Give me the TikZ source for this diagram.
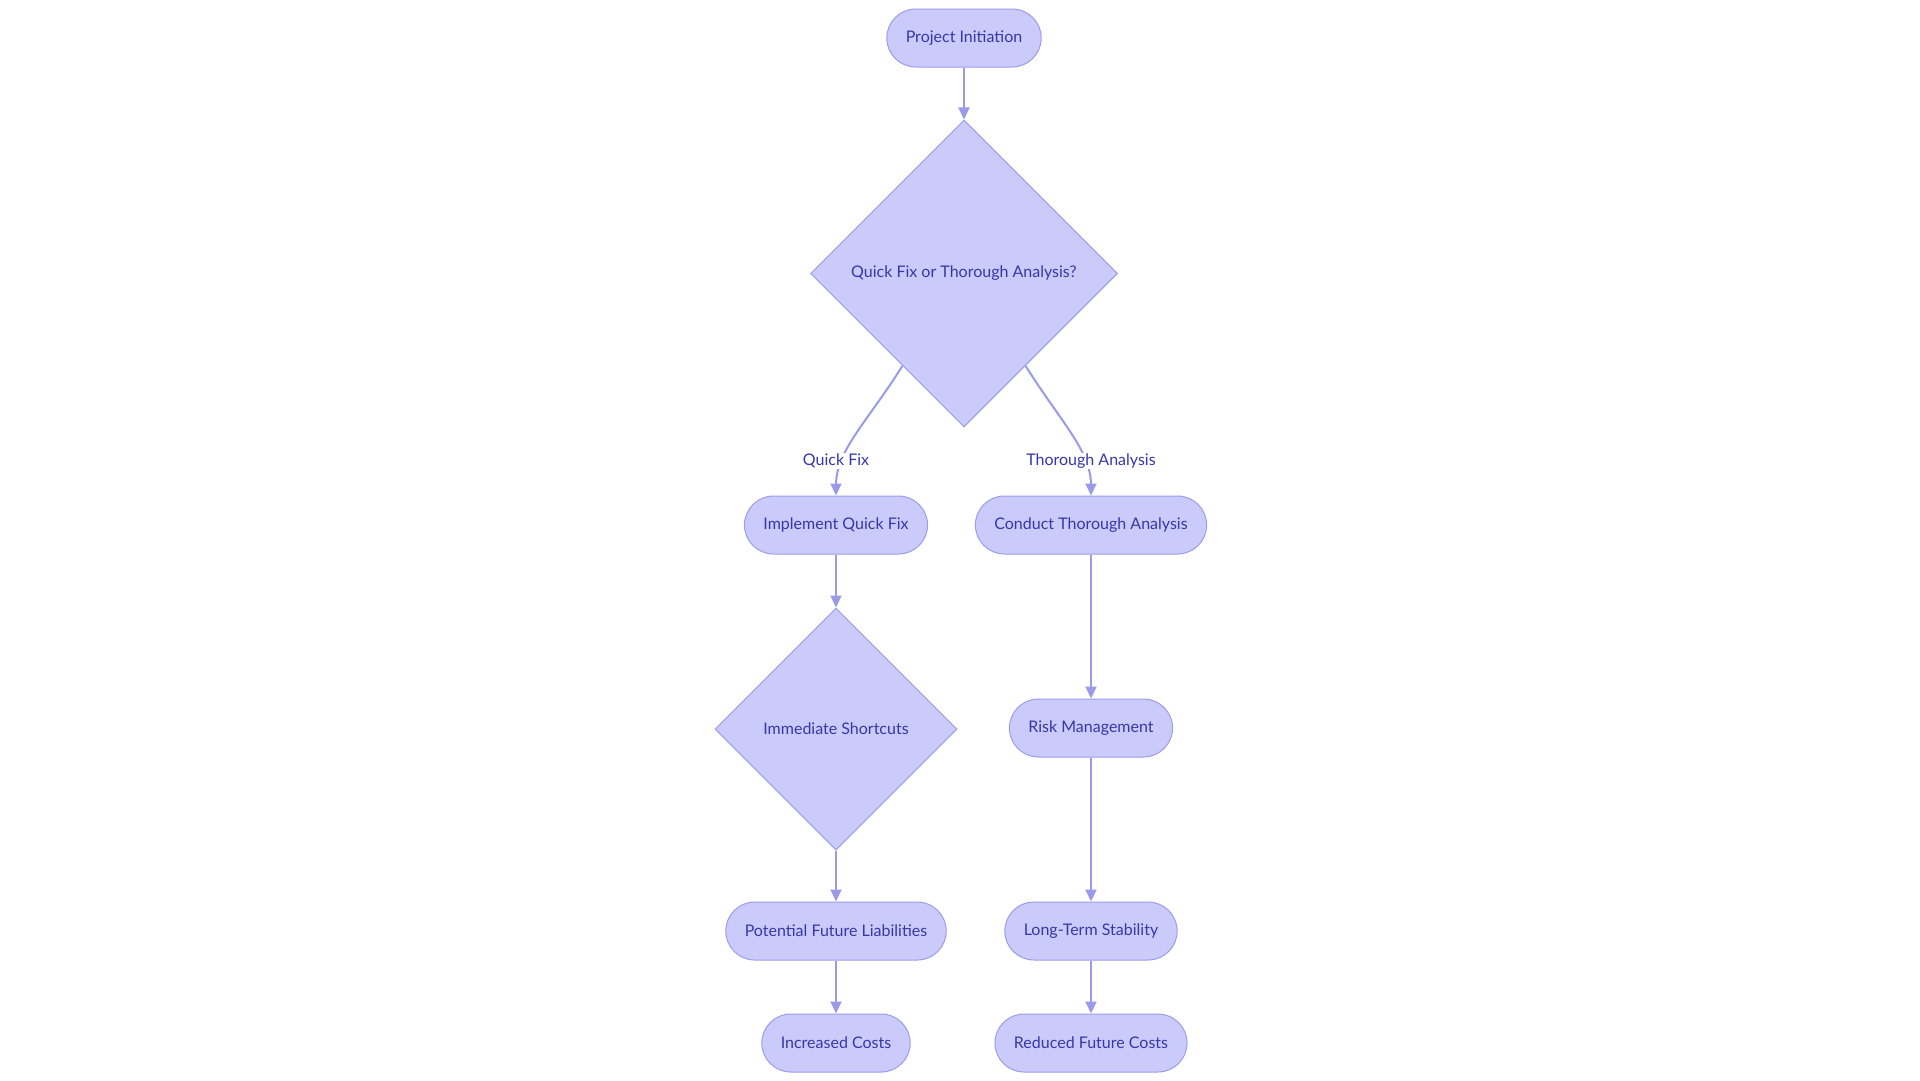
\documentclass[tikz,border=0pt]{standalone}
\usepackage{fontspec}
\setmainfont{Lato}
\usetikzlibrary{arrows.meta,positioning,shapes.geometric,calc}
\definecolor{boxfill}{HTML}{CACAFB}
\definecolor{boxline}{HTML}{9C9CEC}
\definecolor{boxtext}{HTML}{3737AA}
\definecolor{arrowcol}{HTML}{9A9AE8}

\begin{document}
\begin{tikzpicture}[x=1pt, y=1pt, node distance=53pt, >={Triangle[length=12pt,width=11pt]},
  every node/.style={font=\fontsize{16}{19}\selectfont, text=boxtext},
  pill/.style={draw=boxline, fill=boxfill, line width=1pt, rounded corners=29pt, minimum height=58pt, inner xsep=19pt},
  choice/.style={draw=boxline, fill=boxfill, line width=1pt, diamond, aspect=1, inner sep=0pt},
  lbl/.style={fill=white, inner sep=1pt},
  arr/.style={->, draw=arrowcol, line width=2pt}]
\useasboundingbox (0,0) rectangle (1920,-1080);
\node[pill] (start) at (964,-38) {Project Initiation};
\node[choice, minimum size=307pt, below=52pt of start] (pick) {Quick Fix or Thorough Analysis?};
\node[pill] (quick) at (836,-525) {Implement Quick Fix};
\node[pill] (thor) at (1091,-525) {Conduct Thorough Analysis};
\node[choice, minimum size=242pt, below=of quick] (short) {Immediate Shortcuts};
\node[pill, below=51pt of short] (liab) {Potential Future Liabilities};
\node[pill, below=of liab] (cost) {Increased Costs};
\node[pill, below=144pt of thor] (risk) {Risk Management};
\node[pill, below=144pt of risk] (stab) {Long-Term Stability};
\node[pill, below=of stab] (less) {Reduced Future Costs};
% branch curves bend under their labels
\coordinate (qfbend) at (836,-485);
\coordinate (tabend) at (1091,-485);
\draw[arr] (start) -- (pick);
\draw[arr] ($(pick.south)!0.4!(pick.west)$) to[out=-122,in=90,out looseness=1.22,in looseness=0.65] (qfbend) -- (quick.north);
\draw[arr] ($(pick.south)!0.4!(pick.east)$) to[out=-58,in=90,out looseness=1.22,in looseness=0.65] (tabend) -- (thor.north);
\node[lbl] (qflbl) at (836,-461) {Quick Fix};
\node[lbl] (talbl) at (1091,-461) {Thorough Analysis};
\draw[arr] (quick) -- (short);
\draw[arr] (short) -- (liab);
\draw[arr] (liab) -- (cost);
\draw[arr] (thor) -- (risk);
\draw[arr] (risk) -- (stab);
\draw[arr] (stab) -- (less);
\end{tikzpicture}
\end{document}
